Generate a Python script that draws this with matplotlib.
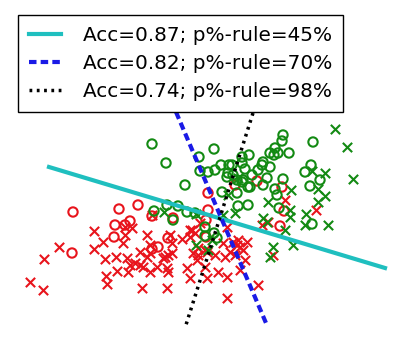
import matplotlib
matplotlib.use("Agg")
import matplotlib.pyplot as plt

# ── two classes, two groups (circle / cross) ────────────────────────────────
red_o_x = [73, 72, 115, 114, 119, 138, 125, 130, 152, 173, 168, 152, 158, 208,
           208, 206, 206, 235, 257, 282, 284, 280]
red_o_y = [130, 89, 117, 105, 133, 137, 117, 121, 126, 124, 104, 93, 95, 149,
           132, 122, 105, 157, 161, 155, 131, 116]

red_x_x = [94, 103, 94, 59, 44, 30, 43, 105, 116, 106, 107, 117,
           125, 132, 125, 123, 152, 147, 170, 172, 182, 190, 190, 195, 127, 140,
           150, 147, 150, 165, 168, 172, 163, 130, 135, 140, 143, 157, 167, 128,
           150, 168, 187, 190, 193, 198, 197, 205, 207, 142, 167, 200,
           227, 223, 233, 238, 247, 237, 240, 230, 235, 225, 243, 245, 215, 207,
           273, 218, 227, 240, 258, 227, 285, 268, 262,
           192, 205, 198, 316]
red_x_y = [111, 100, 93, 95, 83, 60, 52, 83, 85, 66, 58, 71,
           115, 114, 107, 99, 127, 107, 107, 99, 103, 112, 105, 109, 84, 90,
           97, 85, 89, 85, 87, 89, 84, 77, 79, 77, 75, 75, 74, 70,
           70, 70, 74, 64, 89, 94, 82, 75, 64, 54, 54, 119,
           115, 99, 100, 102, 100, 97, 95, 90, 87, 85, 92, 82, 87, 90,
           87, 70, 65, 72, 57, 44, 142, 120, 117,
           112, 92, 87, 132]

green_o_x = [152, 166, 185, 199, 200, 208, 214, 215, 221, 229, 228, 233, 227,
             237, 243, 242, 242, 249, 252, 250, 258, 222, 238, 248, 237, 242,
             248, 263, 283, 275, 277, 283, 282, 313, 275, 270, 278, 289, 263,
             262, 270, 267, 305, 311, 320, 310, 312, 154, 167, 178, 187, 195,
             173, 205, 205, 214, 217, 279, 232, 274, 245]
green_o_y = [198, 179, 157, 185, 171, 170, 193, 172, 177, 177, 169, 167, 165,
             162, 162, 179, 185, 187, 167, 155, 172, 150, 136, 137, 149, 160,
             155, 157, 163, 153, 147, 207, 201, 200, 194, 189, 189, 189, 180,
             177, 175, 164, 170, 177, 162, 156, 118, 131, 137, 136, 130, 129,
             122, 115, 106, 109, 104, 134, 177, 187, 173]

green_x_x = [164, 196, 196, 235, 223, 228, 268, 290, 263, 267, 285, 290, 212,
             208, 273, 270, 293, 291, 312, 325, 318, 335, 347, 353, 325, 318,
             306, 305, 328, 238]
green_x_y = [130, 128, 97, 129, 127, 147, 140, 132, 124, 120, 112, 125, 102,
             92, 95, 85, 97, 152, 171, 169, 153, 213, 195, 163, 146, 140,
             128, 117, 117, 164]

# ── decision boundaries of the three classifiers ────────────────────────────
labels = ["Acc=0.87; p%-rule=45%",
          "Acc=0.82; p%-rule=70%",
          "Acc=0.74; p%-rule=98%"]
bound_x = [[49, 385], [176, 266], [253, 185]]
bound_y = [[175, 74], [230, 19], [229, 14]]

RED = "#e8141c"
GREEN = "#138a13"

fig = plt.figure(figsize=(4.06, 3.42), dpi=100)
ax = fig.add_axes([0, 0, 1, 1])
ax.set_xlim(0, 406)
ax.set_ylim(0, 342)
ax.axis("off")

mk = dict(s=45, linewidths=1.5)
ax.scatter(red_o_x, red_o_y, marker="o", facecolors="none",
           edgecolors=RED, **mk)
ax.scatter(red_x_x, red_x_y, marker="x", color=RED, **mk)
ax.scatter(green_o_x, green_o_y, marker="o", facecolors="none",
           edgecolors=GREEN, **mk)
ax.scatter(green_x_x, green_x_y, marker="x", color=GREEN, **mk)

styles = [dict(color="#1fbfbf", lw=3, ls="-"),
          dict(color="#1a1ae6", lw=3, ls=(0, (1.8, 1.0))),
          dict(color="black", lw=2.5, ls=(0, (0.8, 1.3)))]
for bx, by, lab, st in zip(bound_x, bound_y, labels, styles):
    ax.plot(bx, by, label=lab, **st)

leg = ax.legend(loc="upper left", bbox_to_anchor=(18 / 406, 1 - 15 / 342),
                borderaxespad=0, fontsize=14.4, handlelength=1.6,
                handletextpad=1.1, labelspacing=0.46, borderpad=0.55,
                fancybox=False, framealpha=1, edgecolor="black")
leg.get_frame().set_linewidth(1.0)

fig.savefig("out.png", dpi=100)
